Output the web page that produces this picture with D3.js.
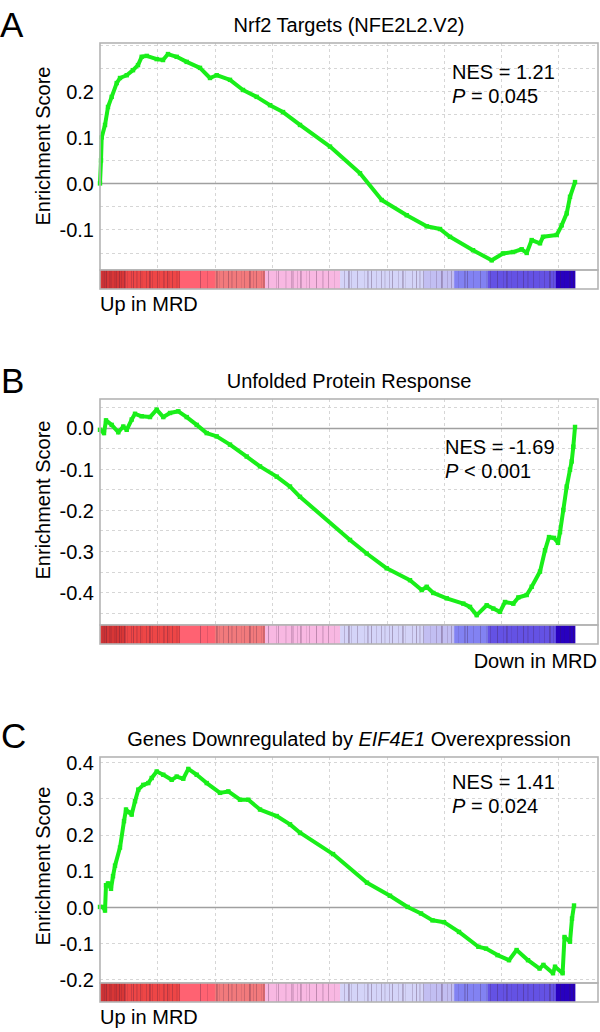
<!DOCTYPE html>
<html><head><meta charset="utf-8">
<script src="https://cdn.jsdelivr.net/npm/d3@7"></script>
<style>
html,body{margin:0;padding:0;background:#fff;}
svg{display:block;font-family:"Liberation Sans",Arial,Helvetica,sans-serif;}
</style></head>
<body>
<svg id="chart" width="600" height="1032"></svg>
<script>
// ---------- data ----------
const rankMax = 17380;
const xGridTicks = [2000, 4000, 6000, 8000, 10000, 12000, 14000, 16000];

// Panel A: Nrf2 Targets
const nrf2Ranks = [0,35,59,175,279,408,583,698,932,1152,1326,1455,1630,1979,2199,2373,2677,3026,3490,3839,4073,4537,4991,5469,5933,6387,6980,8027,9074,9831,10704,11402,11866,12215,13018,13670,14065,14414,14717,14892,15066,15356,15461,15939,16113,16288,16403,16578];
const nrf2ES =    [0,0.05,0.10,0.127,0.166,0.188,0.218,0.229,0.235,0.246,0.257,0.275,0.277,0.270,0.268,0.281,0.275,0.264,0.251,0.229,0.235,0.225,0.203,0.188,0.170,0.155,0.127,0.080,0.022,-0.036,-0.069,-0.093,-0.099,-0.116,-0.145,-0.167,-0.152,-0.149,-0.143,-0.151,-0.123,-0.130,-0.116,-0.112,-0.091,-0.065,-0.029,0.003];

// Panel B: Unfolded Protein Response
const uprRanks = [0,140,209,408,639,813,932,1106,1222,1455,1745,1979,2209,2443,2733,3026,3375,3724,4073,4537,5120,5584,6167,6631,6980,8725,9308,10006,10819,11227,11402,11632,12100,12679,12913,13147,13496,13726,13960,14135,14424,14599,14892,15066,15356,15531,15670,15845,15984,16054,16169,16288,16403,16462,16518,16578];
const uprES =    [-0.005,-0.013,0.018,0.007,-0.011,0.003,-0.005,0.020,0.034,0.028,0.026,0.044,0.026,0.036,0.040,0.026,0.007,-0.013,-0.021,-0.041,-0.070,-0.094,-0.119,-0.143,-0.168,-0.273,-0.306,-0.342,-0.371,-0.395,-0.387,-0.402,-0.415,-0.428,-0.436,-0.456,-0.432,-0.440,-0.448,-0.424,-0.428,-0.413,-0.407,-0.387,-0.350,-0.298,-0.266,-0.268,-0.280,-0.254,-0.200,-0.143,-0.102,-0.082,-0.046,0.002];

// Panel C: Genes Downregulated by EIF4E1 Overexpression
const eifRanks = [0,105,175,209,279,384,454,524,698,838,907,995,1106,1222,1337,1511,1686,1804,1979,2209,2502,2677,2907,3082,3375,3724,4188,4478,4886,5176,5584,6167,6631,6980,8132,9318,10121,10735,11203,11604,12006,12529,13206,13471,13873,14274,14539,14937,15342,15475,15810,15880,16145,16211,16403,16473,16543];
const eifES =    [0,0,-0.010,0.060,0.065,0.050,0.085,0.114,0.164,0.237,0.269,0.262,0.255,0.292,0.324,0.337,0.342,0.356,0.374,0.365,0.351,0.360,0.354,0.381,0.365,0.342,0.315,0.319,0.296,0.296,0.269,0.251,0.228,0.205,0.146,0.067,0.031,0,-0.018,-0.037,-0.042,-0.069,-0.110,-0.115,-0.133,-0.147,-0.119,-0.147,-0.170,-0.160,-0.183,-0.165,-0.183,-0.083,-0.096,-0.032,0.004];

// ranked-list heat bar
const barBinStarts = [0, 870, 2790, 4010, 5760, 8380, 11300, 12360, 13540, 15910];
const barBinEnds   = [870, 2790, 4010, 5760, 8380, 11300, 12360, 13540, 15910, 16580];
const barColors    = ["#d83636","#ee4646","#ff6272","#f27a7c","#f8b8e2","#d4d4f8","#c2bef2","#8282f2","#6452e4","#2800c0"];
const stripeRanks  = [70,122,209,314,366,489,558,663,733,838,942,1082,1152,1256,1396,1448,1605,1710,1815,1989,2059,2199,2338,2391,2513,2652,2757,3490,3734,4048,4153,4293,4467,4572,4746,4921,5026,5200,5340,5444,5619,5689,
  5864,6142,6212,6456,6666,6718,6875,6980,7189,7294,7538,7748,7957,8167,
  8516,8655,8760,8969,9214,9318,9458,9632,9807,9912,10086,10191,10400,10540,10645,10889,11028,11133,11273,11517,11726,11901,12110,12250,
  12494,12704,12808,13018,13262,13471,13611,13855,14065,14169,14344,14553,14763,14902,15112,15321,15496,15670,15810,16054,16194,16368,16508];

// y-axis ticks
const ticksA = [-0.1, 0.0, 0.1, 0.2];
const ticksB = [-0.4, -0.3, -0.2, -0.1, 0.0];
const ticksC = [-0.2, -0.1, 0.0, 0.1, 0.2, 0.3, 0.4];
const gridA = [-0.15,-0.1,-0.05,0.05,0.1,0.15,0.2,0.25,0.3];
const gridB = [-0.45,-0.4,-0.35,-0.3,-0.25,-0.2,-0.15,-0.1,-0.05,0.05];
const gridC = [-0.2,-0.1,0.1,0.2,0.3,0.4];

// ---------- drawing ----------
const svg = d3.select("#chart");
const FONT = 20;
const x = d3.scaleLinear().domain([0, rankMax]).range([100, 598]);

function panel(o) {
  const g = svg.append("g");
  const y = d3.scaleLinear().domain(o.yDomain).range([o.bottom, o.top]);

  g.append("text").attr("x", o.letterX).attr("y", o.letterY)
    .attr("font-size", 35).attr("fill", "#000").text(o.letter);

  const t = g.append("text").attr("x", 349).attr("y", o.top - 11)
    .attr("text-anchor", "middle").attr("font-size", FONT).attr("fill", "#000");
  o.title.forEach(p => t.append("tspan").attr("font-style", p.i ? "italic" : "normal").text(p.s));

  g.selectAll(null).data(o.grid).enter().append("line")
    .attr("x1", 100).attr("x2", 598)
    .attr("y1", d => Math.round(y(d)) + 0.5).attr("y2", d => Math.round(y(d)) + 0.5)
    .attr("stroke", "#d6d6d6").attr("stroke-dasharray", "3,3").attr("stroke-width", 1);
  g.selectAll(null).data(xGridTicks).enter().append("line")
    .attr("x1", d => Math.round(x(d)) + 0.5).attr("x2", d => Math.round(x(d)) + 0.5)
    .attr("y1", o.top).attr("y2", o.bottom)
    .attr("stroke", "#d6d6d6").attr("stroke-dasharray", "3,3").attr("stroke-width", 1);
  g.append("line").attr("x1", 100).attr("x2", 598)
    .attr("y1", Math.round(y(0)) + 0.5).attr("y2", Math.round(y(0)) + 0.5)
    .attr("stroke", "#a0a0a0").attr("stroke-width", 1.3);

  const yAxis = d3.axisLeft(y).tickValues(o.ticks).tickSize(0).tickPadding(6)
    .tickFormat(d3.format(".1f"));
  const ax = g.append("g").attr("transform", "translate(100,0)").call(yAxis);
  ax.select(".domain").remove();
  ax.selectAll("text").attr("font-size", FONT).attr("fill", "#000")
    .attr("font-family", "Liberation Sans, Arial, sans-serif").attr("dy", "0.36em")
    .text(d => d3.format(".1f")(d).replace("−", "-"));

  g.append("text").attr("transform", `translate(50,${o.labelCY}) rotate(-90)`)
    .attr("text-anchor", "middle").attr("font-size", FONT).attr("fill", "#000")
    .text("Enrichment Score");

  const pts = o.ranks.map((r, i) => [r, o.es[i]]);
  g.append("path").datum(pts)
    .attr("d", d3.line().x(d => x(d[0])).y(d => y(d[1])))
    .attr("fill", "none").attr("stroke", "#19ee19").attr("stroke-width", 4)
    .attr("stroke-linejoin", "round");
  g.selectAll(null).data(pts).enter().append("rect")
    .attr("x", d => x(d[0]) - 2.2).attr("y", d => y(d[1]) - 2.2)
    .attr("width", 4.4).attr("height", 4.4).attr("fill", "#19ee19");

  g.append("rect").attr("x", 100).attr("y", o.top).attr("width", 498).attr("height", o.bottom - o.top)
    .attr("fill", "none").attr("stroke", "#b4b4b4").attr("stroke-width", 1.6);

  const by = o.bottom, bh = 19;
  g.selectAll(null).data(barColors).enter().append("rect")
    .attr("x", (d, i) => x(barBinStarts[i])).attr("y", by)
    .attr("width", (d, i) => x(barBinEnds[i]) - x(barBinStarts[i]) + 0.3).attr("height", bh)
    .attr("fill", d => d);
  g.selectAll(null).data(stripeRanks).enter().append("rect")
    .attr("x", d => x(d)).attr("y", by).attr("width", (d, i) => (i % 4 === 1 ? 1.8 : 1))
    .attr("height", bh)
    .attr("fill", "#3a1a3a").attr("opacity", (d, i) => 0.1 + ((i * 7) % 5) * 0.05);
  g.append("rect").attr("x", 100).attr("y", by).attr("width", 498).attr("height", bh)
    .attr("fill", "none").attr("stroke", "#b4b4b4").attr("stroke-width", 1.6);

  const n1 = g.append("text").attr("x", o.nesX).attr("y", o.nesY).attr("font-size", FONT).attr("fill", "#000");
  n1.text(o.nes);
  const n2 = g.append("text").attr("x", o.nesX).attr("y", o.nesY + 24).attr("font-size", FONT).attr("fill", "#000");
  n2.append("tspan").attr("font-style", "italic").text("P");
  n2.append("tspan").text(o.p);

  g.append("text").attr("x", o.footAnchor === "end" ? 597 : 100).attr("y", o.footY)
    .attr("text-anchor", o.footAnchor).attr("font-size", FONT).attr("fill", "#000").text(o.foot);
}

panel({letter: "A", letterX: 0, letterY: 37, top: 43, bottom: 270, yDomain: [-0.188, 0.305],
  title: [{s: "Nrf2 Targets (NFE2L2.V2)"}], grid: gridA, ticks: ticksA, labelCY: 146,
  ranks: nrf2Ranks, es: nrf2ES, nesX: 452, nesY: 79, nes: "NES = 1.21", p: " = 0.045",
  foot: "Up in MRD", footAnchor: "start", footY: 311});

panel({letter: "B", letterX: 1, letterY: 393, top: 399, bottom: 625, yDomain: [-0.48, 0.07],
  title: [{s: "Unfolded Protein Response"}], grid: gridB, ticks: ticksB, labelCY: 500,
  ranks: uprRanks, es: uprES, nesX: 445, nesY: 454, nes: "NES = -1.69", p: " < 0.001",
  foot: "Down in MRD", footAnchor: "end", footY: 668});

panel({letter: "C", letterX: 1, letterY: 748, top: 757, bottom: 983, yDomain: [-0.21, 0.414],
  title: [{s: "Genes Downregulated by "}, {s: "EIF4E1", i: true}, {s: " Overexpression"}],
  grid: gridC, ticks: ticksC, labelCY: 866,
  ranks: eifRanks, es: eifES, nesX: 452, nesY: 789, nes: "NES = 1.41", p: " = 0.024",
  foot: "Up in MRD", footAnchor: "start", footY: 1024});
</script>
</body></html>
